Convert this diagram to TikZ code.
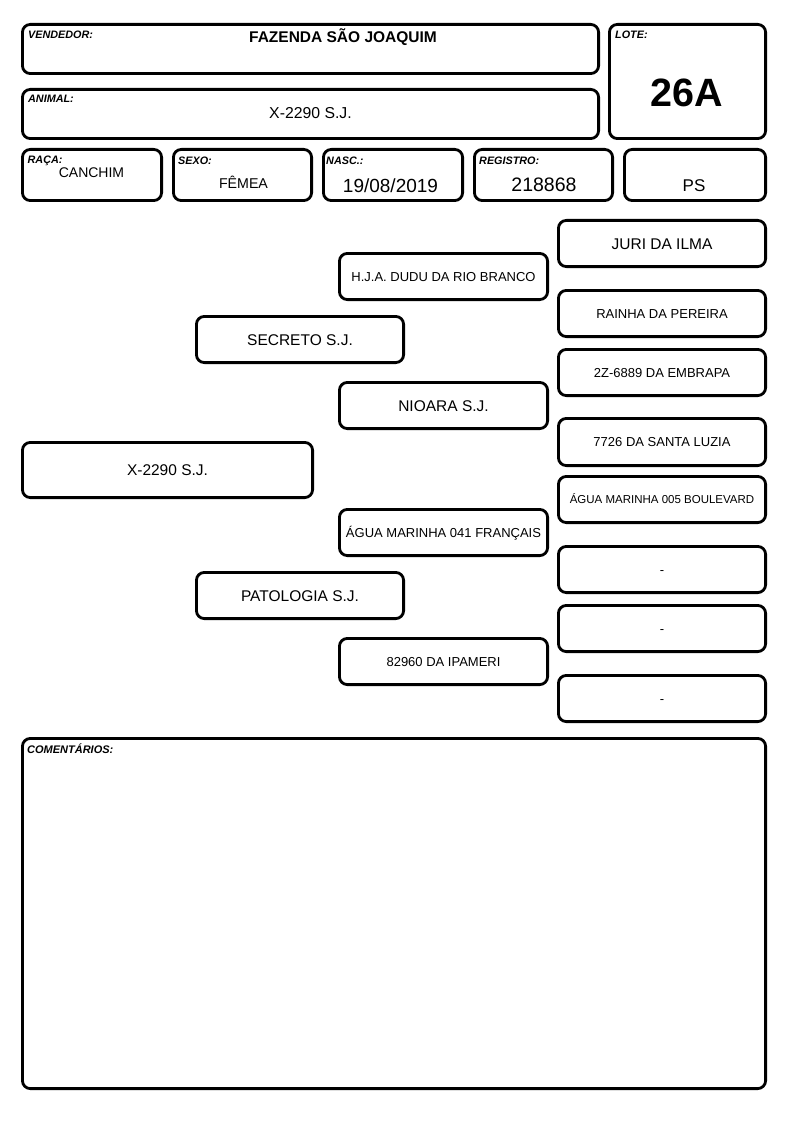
\documentclass[tikz,border=0pt]{standalone}
\usepackage{fontspec}
\setmainfont{Liberation Sans}
\tikzset{
  frm/.style={draw, line width=2.8pt, rounded corners=8pt, inner sep=0pt, text depth=0pt, align=center},
  lbl/.style={anchor=base west, inner sep=0pt, font=\fontsize{10.8}{12}\selectfont\bfseries\itshape},
  val/.style={anchor=base, inner sep=0pt},
  big/.style={font=\fontsize{15.5}{18}\selectfont, text height=11.1pt},
  mid/.style={font=\fontsize{13}{15}\selectfont, text height=9.3pt},
  sml/.style={font=\fontsize{11.5}{13}\selectfont, text height=8.2pt},
}
\newcommand\boxat[7][]{\node[frm,#1,minimum width={(#4)-(#2)-2.8},minimum height={(#5)-(#3)-2.8}] (#6) at ({((#2)+(#4))/2},{((#3)+(#5))/2}) {#7};}
\begin{document}
\begin{tikzpicture}[x=1pt,y=-1pt]
\useasboundingbox (0,0) rectangle (794,1123);
% header boxes
\boxat{21}{23}{600}{75}{vend}{}
\boxat{21}{88}{600}{140}{anim}{}
\boxat{608}{23}{767}{140}{lote}{}
\boxat{21}{148}{163}{202}{raca}{}
\boxat{172}{148}{313}{202}{sexo}{}
\boxat{322}{148}{464}{202}{nasc}{}
\boxat{473}{148}{614}{202}{reg}{}
\boxat{623}{148}{767}{202}{ps}{}
% labels
\node[lbl] (lvend) at (28,39) {VENDEDOR:};
\node[lbl] (lanim) at (28,102.5) {ANIMAL:};
\node[lbl] (llote) at (615,39) {LOTE:};
\node[lbl] (lraca) at (27.5,164) {RAÇA:};
\node[lbl] (lsexo) at (178,165) {SEXO:};
\node[lbl] (lnasc) at (326,165) {NASC.:};
\node[lbl] (lreg) at (479,165) {REGISTRO:};
% values
\node[val, font=\fontsize{15.5}{18}\selectfont\bfseries] (vvend) at (343,43) {FAZENDA SÃO JOAQUIM};
\node[val, font=\fontsize{15.8}{18}\selectfont] (vanim) at (310.5,119) {X-2290 S.J.};
\node[val, font=\fontsize{39.5}{44}\selectfont\bfseries] (vlote) at (687,107) {26A};
\node[val, font=\fontsize{14}{16}\selectfont] (vraca) at (91.5,178) {CANCHIM};
\node[val, font=\fontsize{14.2}{16}\selectfont] (vsexo) at (243.5,189) {FÊMEA};
\node[val, font=\fontsize{19}{22}\selectfont] (vnasc) at (390.5,193) {19/08/2019};
\node[val, font=\fontsize{19.5}{22}\selectfont] (vreg) at (544,192) {218868};
\node[val, font=\fontsize{17}{20}\selectfont] (vps) at (694,192) {PS};
% pedigree: right column
\boxat[big]{557}{219}{767}{268}{r1}{JURI DA ILMA}
\boxat[mid]{557}{289}{767}{338}{r2}{RAINHA DA PEREIRA}
\boxat[mid]{557}{348}{767}{397}{r3}{2Z-6889 DA EMBRAPA}
\boxat[mid]{557}{417}{767}{467}{r4}{7726 DA SANTA LUZIA}
\boxat[sml]{557}{475}{767}{524}{r5}{ÁGUA MARINHA 005 BOULEVARD}
\boxat[mid]{557}{545}{767}{594}{r6}{-}
\boxat[mid]{557}{604}{767}{653}{r7}{-}
\boxat[mid]{557}{674}{767}{723}{r8}{-}
% middle column
\boxat[mid]{338}{252}{549}{301}{m1}{H.J.A. DUDU DA RIO BRANCO}
\boxat[big]{338}{381}{549}{430}{m2}{NIOARA S.J.}
\boxat[mid]{338}{508}{549}{557}{m3}{ÁGUA MARINHA 041 FRANÇAIS}
\boxat[mid]{338}{637}{549}{686}{m4}{82960 DA IPAMERI}
% parents
\boxat[big]{195}{315}{405}{364}{p1}{SECRETO S.J.}
\boxat[big]{195}{571}{405}{620}{p2}{PATOLOGIA S.J.}
% animal
\boxat[big]{21}{441}{314}{499}{a0}{X-2290 S.J.}
% comments
\boxat{21}{737}{767}{1090}{com}{}
\node[lbl, font=\fontsize{11}{13}\selectfont\bfseries\itshape] (lcom) at (27,753) {COMENTÁRIOS:};
\end{tikzpicture}
\end{document}
